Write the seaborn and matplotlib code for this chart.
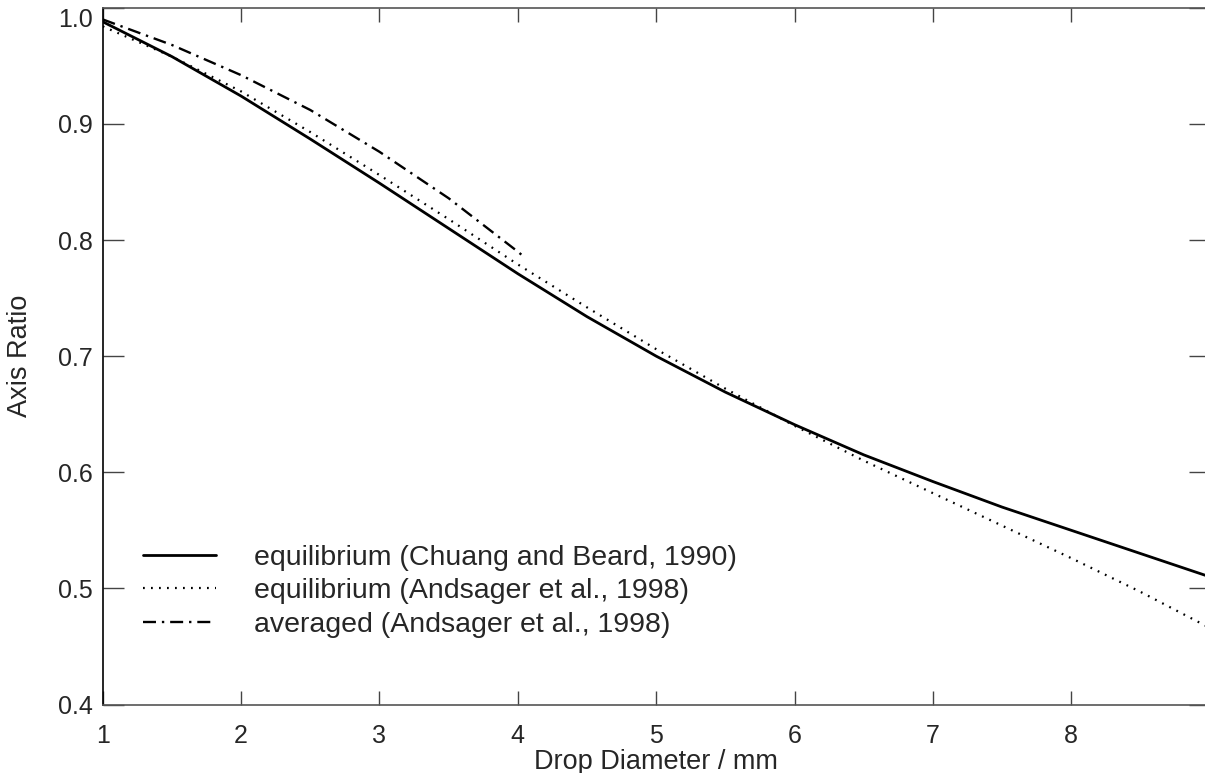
import numpy as np
import pandas as pd
import matplotlib
matplotlib.use("Agg")
import matplotlib.pyplot as plt
import seaborn as sns

# Data
diam = [1.0, 1.5, 2.0, 2.5, 3.0, 3.5, 4.0, 4.5, 5.0, 5.5, 6.0, 6.5, 7.0, 7.5, 8.0, 8.5, 9.0]
chuang_beard = [0.988, 0.958, 0.924, 0.887, 0.849, 0.810, 0.771, 0.734, 0.700,
                0.669, 0.641, 0.615, 0.592, 0.570, 0.550, 0.530, 0.510]
andsager_eq = [0.984, 0.958, 0.928, 0.893, 0.856, 0.818, 0.779, 0.742, 0.706,
               0.672, 0.640, 0.610, 0.582, 0.554, 0.526, 0.497, 0.466]
diam_avg = [1.0, 1.5, 2.0, 2.5, 3.0, 3.5, 4.0, 4.05]
andsager_avg = [0.990, 0.968, 0.942, 0.912, 0.876, 0.836, 0.790, 0.785]

labels = ["equilibrium (Chuang and Beard, 1990)",
          "equilibrium (Andsager et al., 1998)",
          "averaged (Andsager et al., 1998)"]
xticks = [1, 2, 3, 4, 5, 6, 7, 8]
yticks = [0.4, 0.5, 0.6, 0.7, 0.8, 0.9, 1.0]

sns.set_style("ticks")
plt.rcParams['font.family'] = ['Liberation Sans', 'DejaVu Sans']

fig = plt.figure(figsize=(12.05, 7.73), dpi=100)
ax = fig.add_axes([102.7 / 1205, 1 - 704.5 / 773, 1107 / 1205, 696.7 / 773])

df1 = pd.DataFrame({"x": diam, "y": chuang_beard})
df2 = pd.DataFrame({"x": diam, "y": andsager_eq})
df3 = pd.DataFrame({"x": diam_avg, "y": andsager_avg})

sns.lineplot(data=df1, x="x", y="y", ax=ax, color="black", lw=2.0,
             linestyle="-", label=labels[0])
sns.lineplot(data=df2, x="x", y="y", ax=ax, color="black", lw=1.6,
             linestyle=(0, (0.8, 2.8)), label=labels[1])
sns.lineplot(data=df3, x="x", y="y", ax=ax, color="black", lw=1.7,
             linestyle=(0, (5.5, 2.5, 1.0, 2.5)), label=labels[2])

ax.set_xlim(1, 9)
ax.set_ylim(0.4, 1.0)
ax.set_xticks(xticks)
ax.set_xticklabels([str(t) for t in xticks])
ax.set_yticks(yticks)
ax.set_yticklabels([f"{t:.1f}" for t in yticks])

fs_tick = 18
fs_lab = 19.5
ax.tick_params(axis='x', direction='in', length=10, width=1.0, color='#444444',
               top=True, bottom=True, labelsize=fs_tick, pad=14)
ax.tick_params(axis='y', direction='in', length=15, width=1.0, color='#444444',
               left=True, right=True, labelsize=fs_tick, pad=7)
for lab in ax.get_yticklabels():
    if lab.get_text() == "1.0":
        lab.set_va('top')

for side in ['top', 'bottom']:
    ax.spines[side].set_color('#555555')
    ax.spines[side].set_linewidth(1.2)
ax.spines['left'].set_color('black')
ax.spines['left'].set_linewidth(1.2)
ax.spines['right'].set_visible(False)

ax.set_xlabel("Drop Diameter / mm", fontsize=fs_lab, va='center')
ax.xaxis.set_label_coords(0.5, (704.5 - 762) / 696.7)
ax.set_ylabel("Axis Ratio", fontsize=fs_lab, labelpad=18)

leg = ax.legend(loc='upper left', bbox_to_anchor=((143 - 102.7) / 1107, (704.5 - 545) / 696.7),
                frameon=False, fontsize=20.5, handlelength=2.55, handletextpad=1.35,
                labelspacing=0.26, borderpad=0, borderaxespad=0)

fig.savefig("out.png", dpi=100)
